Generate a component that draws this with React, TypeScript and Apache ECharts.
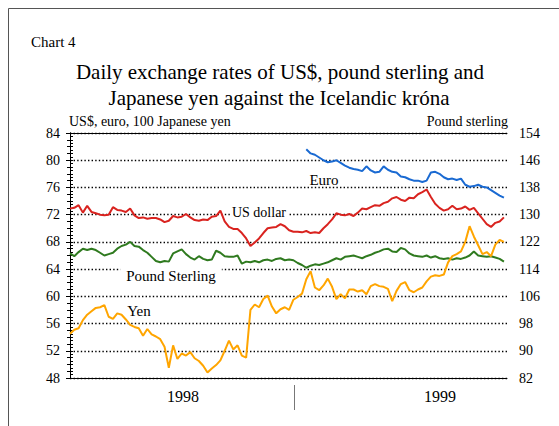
import React, { useEffect, useRef } from "react";
import * as echarts from "echarts";

// x positions are days since 1 Jan 1998, one reading per week
const WEEK_DAYS = 7;
const X_MAX_DAYS = 712;
const EURO_START_WEEK = 55;

const yearLabels = ["1998", "1999"];
const yearLabelDays = [184, 603];
const rightTickLabels = [82, 90, 98, 106, 114, 122, 130, 138, 146, 154];

// US$ (left axis, krónur)
const usDollar = [
  72.9, 73.0, 73.4, 72.3, 73.3, 72.4, 72.2, 72.0, 71.9, 72.0, 73.1, 72.7, 72.6, 72.4, 72.9, 71.9, 71.5, 71.6, 71.4, 71.5,
  71.5, 71.3, 70.9, 71.1, 71.8, 71.6, 71.7, 72.1, 71.6, 71.2, 71.1, 71.3, 71.2, 71.7, 71.8, 72.6, 71.0, 70.2, 69.9, 69.9,
  69.3, 68.5, 67.4, 67.9, 68.5, 69.3, 70.0, 70.1, 70.2, 70.6, 70.3, 69.7, 69.5, 69.5, 69.4, 69.6, 69.3, 69.4, 69.3, 70.0,
  70.6, 71.3, 72.2, 72.0, 71.9, 72.1, 71.8, 72.3, 72.9, 72.8, 73.1, 73.4, 73.3, 73.7, 73.9, 74.4, 74.6, 74.2, 74.0, 74.5,
  74.4, 75.0, 75.3, 75.7, 74.6, 73.6, 73.0, 72.6, 72.8, 73.3, 72.8, 72.9, 73.2, 72.7, 73.0, 72.2, 71.4, 70.6, 70.2, 70.8,
  71.0, 71.6,
];

// Pound sterling (right axis, krónur)
const poundSterling = [
  118.6, 117.8, 119.0, 120.0, 119.6, 120.0, 119.6, 118.8, 118.0, 118.4, 118.8, 120.0, 120.8, 121.2, 122.0, 120.8, 120.6,
  119.6, 118.8, 117.6, 116.4, 116.0, 116.4, 116.2, 118.6, 119.2, 119.8, 118.4, 117.4, 116.8, 117.8, 117.0, 116.6, 116.8,
  119.4, 118.8, 117.8, 117.6, 117.6, 118.0, 115.6, 116.2, 116.0, 116.4, 116.0, 116.6, 116.8, 116.4, 117.0, 117.2, 116.6,
  116.8, 116.6, 115.8, 115.2, 114.4, 115.0, 115.4, 115.2, 115.6, 116.0, 116.6, 117.2, 116.8, 117.6, 117.8, 118.0, 117.6,
  117.2, 117.8, 118.2, 118.8, 119.2, 119.8, 120.0, 119.2, 119.0, 120.2, 119.8, 118.6, 118.0, 117.8, 117.6, 118.0, 117.4,
  117.8, 117.2, 117.0, 117.2, 116.8, 117.2, 117.0, 117.4, 118.0, 119.2, 118.0, 117.8, 117.6, 117.8, 117.4, 117.0, 116.2,
];

// Euro (left axis), from January 1999
const euro = [
  81.6, 81.0, 80.8, 80.4, 80.0, 79.7, 79.8, 80.0, 79.6, 79.2, 78.9, 78.7, 78.6, 78.4, 79.1, 78.5, 78.2, 78.3, 79.1, 78.6,
  78.3, 78.2, 77.6, 77.5, 77.2, 77.0, 77.0, 76.8, 77.0, 78.2, 78.3, 78.0, 77.5, 77.2, 77.3, 77.1, 77.3, 76.4, 76.1, 76.2,
  76.4, 76.1, 76.0, 75.6, 75.2, 74.8, 74.5,
];

// 100 Japanese yen (left axis)
const yen = [
  54.5, 55.1, 55.3, 56.5, 57.3, 57.8, 58.3, 58.4, 58.7, 57.0, 56.7, 57.5, 57.3, 56.6, 55.8, 55.5, 55.3, 54.2, 55.2, 54.4,
  54.1, 53.7, 52.6, 49.5, 52.8, 50.8, 51.6, 51.3, 51.8, 50.9, 50.5, 49.8, 48.8, 49.4, 49.9, 50.6, 52.0, 53.5, 52.2, 52.8,
  51.3, 51.0, 58.0, 58.8, 58.4, 59.6, 60.1, 58.5, 57.5, 58.1, 58.4, 58.0, 59.5, 59.9, 60.4, 62.5, 63.7, 61.3, 60.9, 61.6,
  62.6, 61.4, 59.6, 60.3, 59.7, 61.0, 61.0, 60.7, 60.9, 60.3, 61.5, 61.8, 61.5, 61.4, 61.1, 59.3, 60.8, 61.8, 62.1, 60.9,
  60.6, 61.0, 61.3, 62.2, 62.9, 63.1, 63.0, 63.2, 65.0, 65.9, 66.2, 66.6, 68.0, 70.3, 68.8, 67.5, 66.2, 66.5, 65.9, 67.6,
  68.3, 68.0,
];

const SERIF = "Liberation Serif";

const toPairs = (vals: number[], startWeek = 0) => vals.map((v, i) => [(startWeek + i) * WEEK_DAYS, v]);

const txt = (
  text: string,
  x: number,
  y: number,
  size: number,
  align: "left" | "center" | "right" = "center",
  extra: Record<string, unknown> = {},
  z = 1
) => ({
  type: "text",
  x,
  y,
  z,
  style: {
    text,
    fontSize: size,
    fontFamily: SERIF,
    fill: "#000",
    align,
    verticalAlign: "middle",
    ...extra,
  },
});

export default function App() {
  const ref = useRef<HTMLDivElement>(null);

  useEffect(() => {
    if (!ref.current) return;
    const chart = echarts.init(ref.current, undefined, { renderer: "svg" });

    const rightMinor: number[] = [];
    for (let v = 82; v <= 154; v++) rightMinor.push(v);

    const gridLine = { show: true, lineStyle: { color: "#000", width: 1.4, type: [1.4, 2.2] as any } };
    const labelStyle = { color: "#000", fontSize: 14, fontFamily: SERIF };

    chart.setOption({
      animation: false,
      backgroundColor: "#fff",
      grid: { left: 70, right: 52, top: 133, bottom: 48, containLabel: false },
      xAxis: [
        {
          type: "value",
          position: "bottom",
          min: 0,
          max: X_MAX_DAYS,
          axisLine: { show: true, lineStyle: { color: "#000", width: 1 } },
          axisTick: { show: false },
          splitLine: { show: false },
          axisLabel: {
            customValues: yearLabelDays,
            formatter: (v: number) => (v < 365 ? yearLabels[0] : yearLabels[1]),
            fontSize: 16,
            fontFamily: SERIF,
            color: "#000",
            margin: 10,
          },
        },
        {
          type: "value",
          position: "top",
          min: 0,
          max: X_MAX_DAYS,
          axisLine: { show: true, lineStyle: { color: "#000", width: 1 } },
          axisTick: { show: false },
          axisLabel: { show: false },
          splitLine: { show: false },
        },
      ],
      yAxis: [
        {
          type: "value",
          position: "left",
          min: 48,
          max: 84,
          interval: 4,
          axisLine: { show: true, lineStyle: { color: "#000", width: 1 } },
          axisTick: { show: true, inside: false, length: 4, lineStyle: { color: "#000" } },
          minorTick: { show: true, splitNumber: 4, length: 3, lineStyle: { color: "#000" } },
          axisLabel: { ...labelStyle, margin: 10 },
          splitLine: gridLine,
        },
        {
          type: "value",
          position: "right",
          min: 82,
          max: 154,
          axisLine: { show: true, lineStyle: { color: "#000", width: 1 } },
          axisTick: { show: true, inside: false, length: 3, customValues: rightMinor, lineStyle: { color: "#000" } },
          axisLabel: { ...labelStyle, margin: 12, customValues: rightTickLabels },
          splitLine: { show: false },
        },
      ],
      series: [
        {
          name: "Pound Sterling",
          type: "line",
          yAxisIndex: 1,
          data: toPairs(poundSterling),
          showSymbol: false,
          lineStyle: { color: "#2f7a1f", width: 2 },
          itemStyle: { color: "#2f7a1f" },
        },
        {
          name: "US dollar",
          type: "line",
          data: toPairs(usDollar),
          showSymbol: false,
          lineStyle: { color: "#d9231f", width: 2 },
          itemStyle: { color: "#d9231f" },
        },
        {
          name: "Euro",
          type: "line",
          data: toPairs(euro, EURO_START_WEEK),
          showSymbol: false,
          lineStyle: { color: "#1a6ad2", width: 2 },
          itemStyle: { color: "#1a6ad2" },
        },
        {
          name: "Yen",
          type: "line",
          data: toPairs(yen),
          showSymbol: false,
          lineStyle: { color: "#ffa500", width: 2 },
          itemStyle: { color: "#ffa500" },
        },
      ],
      graphic: [
        { type: "line", shape: { x1: 8.5, y1: 8.5, x2: 8.5, y2: 426 }, style: { stroke: "#555", lineWidth: 1 } },
        { type: "line", shape: { x1: 8.5, y1: 8.5, x2: 559, y2: 8.5 }, style: { stroke: "#555", lineWidth: 1 } },
        { type: "line", shape: { x1: 294.5, y1: 385, x2: 294.5, y2: 410 }, style: { stroke: "#777", lineWidth: 1 } },
        txt("Chart 4", 31, 42, 15, "left"),
        txt("Daily exchange rates of US$, pound sterling and", 280, 72, 21),
        txt("Japanese yen against the Icelandic króna", 279, 98, 21),
        txt("US$, euro, 100 Japanese yen", 69, 121, 14, "left"),
        txt("Pound sterling", 508, 121, 14, "right"),
        txt("Euro", 324, 180, 15),
        txt("US dollar", 259, 212, 14, "center", { backgroundColor: "#fff", padding: [0, 2] }),
        txt("Pound Sterling", 171, 276, 15, "center", { backgroundColor: "#fff", padding: [2, 6] }),
        txt("Yen", 139, 311, 15),
      ],
    });

    return () => chart.dispose();
  }, []);

  return <div ref={ref} style={{ position: "absolute", left: 0, top: 0, width: 559, height: 426 }} />;
}
